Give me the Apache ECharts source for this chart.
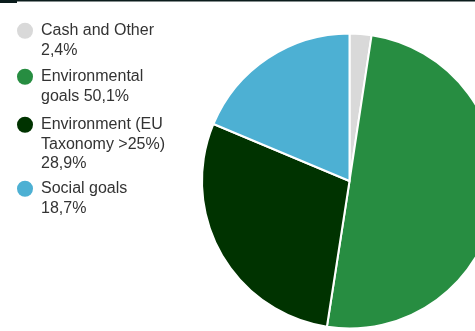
<!DOCTYPE html>
<html>
<head>
<meta charset="utf-8">
<script src="https://cdn.jsdelivr.net/npm/echarts@6/dist/echarts.min.js"></script>
<style>
  html, body { margin: 0; padding: 0; background: #fff; }
  #grafico { width: 475px; height: 331px; }
</style>
</head>
<body>
<div id="grafico"></div>
<script>
// datos
const categorias = ['Cash and Other', 'Environmental goals', 'Environment (EU Taxonomy >25%)', 'Social goals'];
const valores = [2.4, 50.1, 28.9, 18.7];
const etiquetas = [
    ['Cash and Other', '2,4%'],
    ['Environmental', 'goals 50,1%'],
    ['Environment (EU', 'Taxonomy >25%)', '28,9%'],
    ['Social goals', '18,7%']
];
const colores = ['#d9d9d9', '#278d41', '#003300', '#4db0d3'];

const chart = echarts.init(document.getElementById('grafico'));
const LINEA = 19.5;
const topsLeyenda = [1.5, 47.5, 76, 159.5];

// una leyenda por item; lineas vacias arriba para que el icono quede en la primera linea
const leyendas = categorias.map((cat, i) => {
    const n = etiquetas[i].length;
    return {
        orient: 'vertical',
        left: 17,
        top: topsLeyenda[i],
        padding: 0,
        icon: 'circle',
        itemWidth: 16,
        itemHeight: 16,
        itemStyle: { borderWidth: 0 },
        selectedMode: false,
        data: [cat],
        formatter: () => '\n'.repeat(n - 1) + etiquetas[i].join('\n'),
        textStyle: {
            fontFamily: 'Liberation Sans, Arial, sans-serif',
            fontSize: 16,
            lineHeight: LINEA,
            color: '#333333',
            padding: [0, 0, 0, 3]
        }
    };
});

chart.setOption({
    animation: false,
    color: colores,
    legend: leyendas,
    graphic: [
        { type: 'rect', shape: { x: 0, y: 0, width: 475, height: 1.5 }, style: { fill: '#0b1c1c' } },
        { type: 'rect', shape: { x: 0, y: 0, width: 17, height: 3 }, style: { fill: '#0b1c1c' } }
    ],
    series: [{
        type: 'pie',
        center: [349.5, 181],
        radius: 147.5,
        startAngle: 90,
        clockwise: true,
        silent: true,
        label: { show: false },
        labelLine: { show: false },
        itemStyle: { borderColor: '#ffffff', borderWidth: 2 },
        data: categorias.map((c, i) => ({ name: c, value: valores[i] }))
    }]
});
</script>
</body>
</html>
